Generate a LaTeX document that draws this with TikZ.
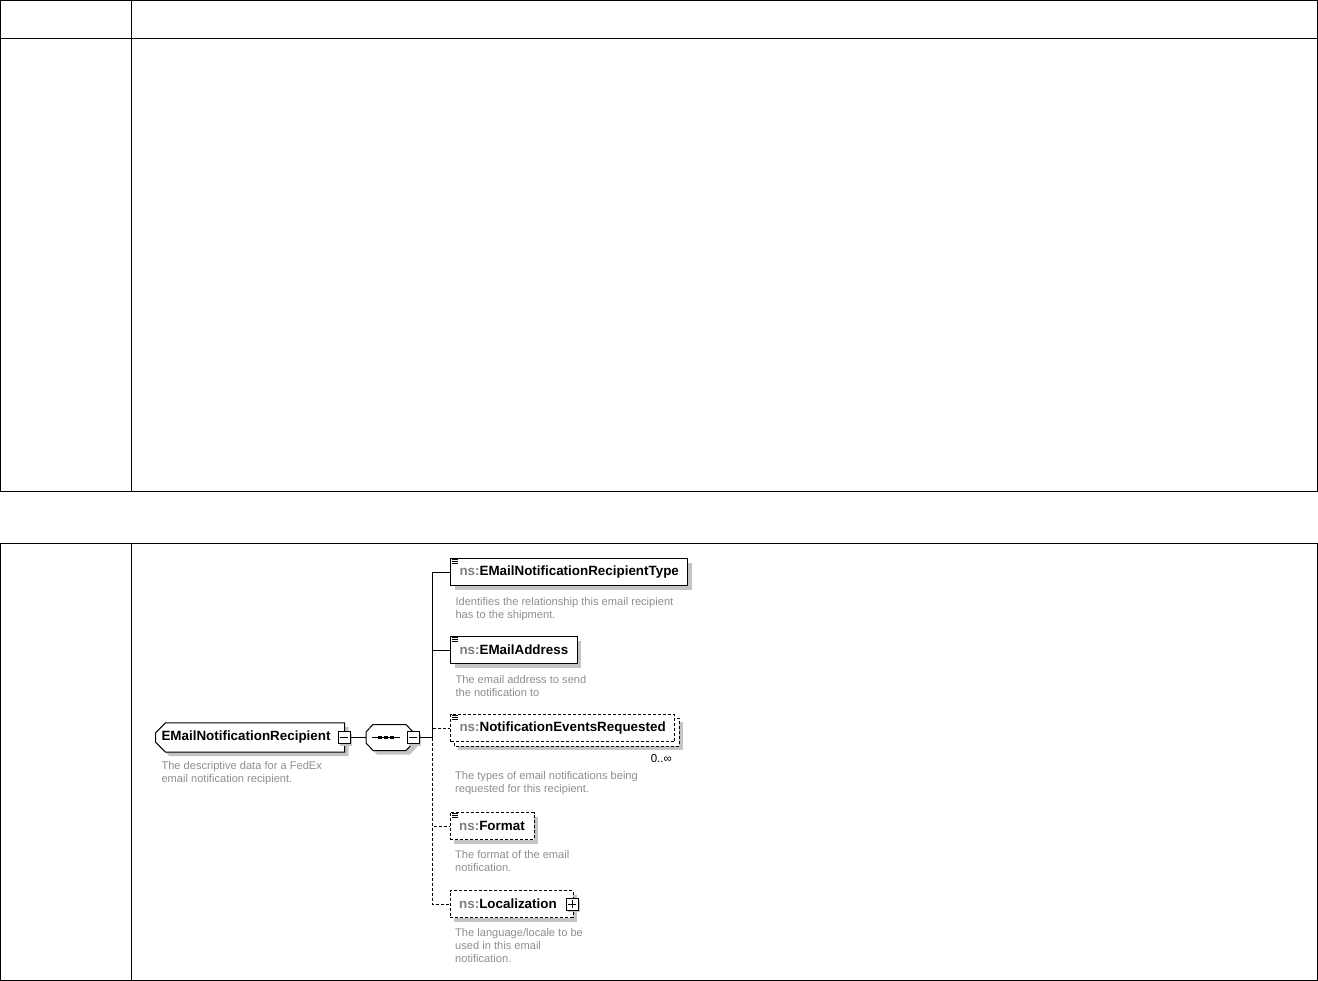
\documentclass[tikz,border=0pt]{standalone}
\usepackage{fontspec}
\setmainfont{Liberation Sans}
\usetikzlibrary{shapes.misc, shadows, positioning, calc}

\pgfdeclarelayer{background}
\pgfsetlayers{background,main}

\definecolor{nsgrey}{HTML}{7F7F7F}
\definecolor{descgrey}{HTML}{8E8E8E}
\definecolor{shadowgrey}{HTML}{C4C4C4}

\newcommand{\nsname}[1]{\textbf{{\color{nsgrey}ns:}#1}}

\tikzset{
  dashline/.style={dash pattern=on 3pt off 2pt},
  shadowed/.style={drop shadow={shadow xshift=4pt, shadow yshift=-4pt, fill=shadowgrey, opacity=1}},
  elembase/.style={draw, fill=white, anchor=west, minimum height=27pt, inner xsep=9pt, inner ysep=0pt,
    font=\fontsize{13.4}{15}\selectfont},
  elem/.style={elembase, shadowed},
  root/.style={chamfered rectangle, chamfered rectangle corners={north west, south west},
    chamfered rectangle sep=5pt, draw, fill=white, anchor=west, minimum height=29pt, inner xsep=1pt,
    font=\fontsize{13.4}{15}\selectfont\bfseries, shadowed},
  seqbox/.style={minimum width=46pt, minimum height=25pt, inner sep=0pt},
  toggle/.style={draw, fill=white, minimum size=12pt, inner sep=0pt,
    drop shadow={shadow xshift=2pt, shadow yshift=-2pt, fill=shadowgrey, opacity=1}},
  desc/.style={anchor=north west, align=left, inner sep=0pt, text=descgrey,
    font=\fontsize{11.1}{13}\selectfont},
}

\begin{document}
\begin{tikzpicture}[x=1pt, y=-1pt, line width=1pt]
  \useasboundingbox (0,0) rectangle (1318,981);

  % ---------- upper table ----------
  \draw (0.5,0.5) rectangle (1317.5,491.5);
  \draw (0.5,38.5) -- (1317.5,38.5);
  \draw (131.5,0.5) -- (131.5,491.5);

  % ---------- lower table ----------
  \draw (0.5,543.5) rectangle (1317.5,980.5);
  \draw (131.5,543.5) -- (131.5,980.5);

  % ---------- root element ----------
  \node[root] (root) at (155,737.5) {EMailNotificationRecipient\kern8pt};
  \node[toggle] (rootminus) at (344,737.5) {};
  \draw ($(rootminus.west)+(2.5,0)$) -- ($(rootminus.east)+(-2.5,0)$);
  \node[desc] (rootdesc) at (161,761) {The descriptive data for a FedEx\\email notification recipient.};

  % ---------- sequence ----------
  \node[seqbox] (seq) at (389.5,737.5) {};
  \draw[fill=white, shadowed] ($(seq.west)+(0,-5.5)$) -- ($(seq.north west)+(7,0)$)
    -- ($(seq.north east)+(-7,0)$) -- ($(seq.east)+(0,-5.5)$) -- ($(seq.east)+(0,5.5)$)
    -- ($(seq.south east)+(-7,0)$) -- ($(seq.south west)+(7,0)$) -- ($(seq.west)+(0,5.5)$) -- cycle;
  \draw ($(seq.west)+(6,0)$) -- ($(seq.west)+(34,0)$);
  \foreach \dx in {14,20,26}
    \fill ($(seq.west)+(\dx-1.6,-1.6)$) rectangle ++(3.2,3.2);
  \node[toggle] (seqminus) at (413,737.5) {};
  \draw ($(seqminus.west)+(2.5,0)$) -- ($(seqminus.east)+(-2.5,0)$);
  \coordinate (bus) at (432,737.5);

  % ---------- children ----------
  \node[elem] (e1) at (450,572) {\nsname{EMailNotificationRecipientType}};
  \node[desc, below=11pt of e1.south west, anchor=north west, xshift=5pt] (d1)
    {Identifies the relationship this email recipient\\has to the shipment.};

  \node[elem] (e2) at (450,650) {\nsname{EMailAddress}};
  \node[desc, below=11pt of e2.south west, anchor=north west, xshift=5pt] (d2)
    {The email address to send\\the notification to};

  \node[elembase, dashline] (e3) at (450,728) {\nsname{NotificationEventsRequested}};
  % repeated element: a second box behind the front one
  \begin{pgfonlayer}{background}
    \draw[dashline, fill=white, shadowed] ($(e3.north west)+(4,4)$) rectangle ($(e3.south east)+(4,4)$);
  \end{pgfonlayer}
  \node[font=\fontsize{11.5}{13}\selectfont, anchor=east, inner sep=0pt] (card3) at (672,759) {0..∞};
  \node[desc, below=29pt of e3.south west, anchor=north west, xshift=5pt] (d3)
    {The types of email notifications being\\requested for this recipient.};

  \node[elem, dashline] (e4) at (450,826) {\nsname{Format}};
  \node[desc, below=11pt of e4.south west, anchor=north west, xshift=5pt] (d4)
    {The format of the email\\notification.};

  \node[elem, dashline] (e5) at (450,904) {\nsname{Localization}\kern7pt};
  \node[toggle] (e5plus) at (572,904) {};
  \draw ($(e5plus.west)+(2.5,0)$) -- ($(e5plus.east)+(-2.5,0)$);
  \draw ($(e5plus.north)+(0,2.5)$) -- ($(e5plus.south)+(0,-2.5)$);
  \node[desc, below=11pt of e5.south west, anchor=north west, xshift=5pt] (d5)
    {The language/locale to be\\used in this email\\notification.};

  % simple content marks
  \foreach \el in {e1,e2,e3,e4}
    \foreach \dy in {1.5,3.5,5.5}
      \draw[line width=0.8pt] ($(\el.north west)+(2,\dy)$) -- ++(6,0);

  % ---------- connectors ----------
  \draw (rootminus) -- (seq);
  \draw (seqminus) -- (bus);
  \draw (bus) |- (e1.west);
  \draw (bus) |- (e2.west);
  \draw[dashline] (bus) |- (e3.west);
  \draw[dashline] (bus) |- (e4.west);
  \draw[dashline] (bus) |- (e5.west);
\end{tikzpicture}
\end{document}
